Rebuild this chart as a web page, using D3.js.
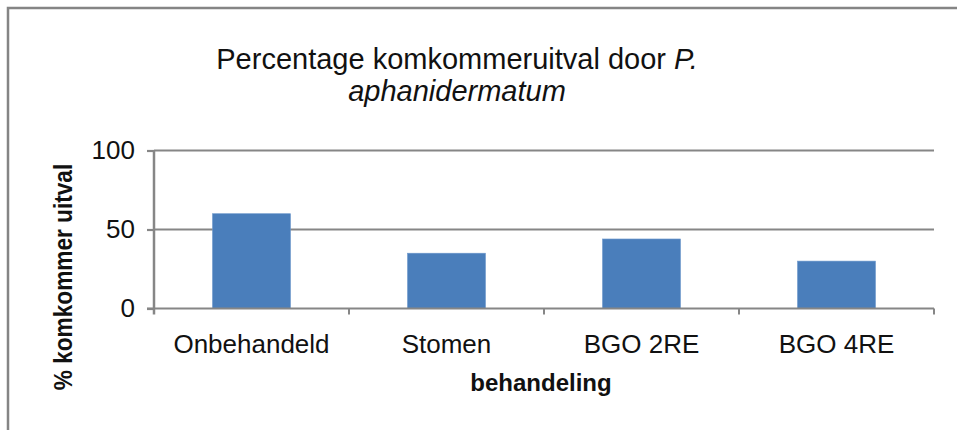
<!DOCTYPE html>
<html>
<head>
<meta charset="utf-8">
<script src="https://cdn.jsdelivr.net/npm/d3@7"></script>
<style>
  html, body { margin: 0; padding: 0; background: #fff; }
  svg { display: block; font-family: "Liberation Sans", Arial, Helvetica, sans-serif; }
</style>
</head>
<body>
<svg id="chart" width="957" height="430"></svg>
<script>
// Percentage cucumber loss per treatment
const categories = ["Onbehandeld", "Stomen", "BGO 2RE", "BGO 4RE"];
const uitval = [60, 35, 44, 30];
const yTicks = [0, 50, 100];

const width = 957, height = 430;
const margin = { top: 150.5, right: 23, bottom: 121.5, left: 154 };
const innerW = width - margin.left - margin.right;
const innerH = height - margin.top - margin.bottom;

const svg = d3.select("#chart");

// chart frame (only top and left edges fall inside the view)
svg.append("rect")
  .attr("x", 8).attr("y", 8)
  .attr("width", width + 20).attr("height", height + 20)
  .attr("fill", "none")
  .attr("stroke", "#858585")
  .attr("stroke-width", 2.5);

const g = svg.append("g").attr("transform", `translate(${margin.left},${margin.top})`);

const x = d3.scaleBand().domain(categories).range([0, innerW]).paddingInner(0.6).paddingOuter(0.3);
const y = d3.scaleLinear().domain([0, 100]).range([innerH, 0]);

// horizontal gridlines
g.append("g")
  .selectAll("line")
  .data(yTicks.filter(t => t > 0))
  .join("line")
  .attr("x1", 0).attr("x2", innerW)
  .attr("y1", d => y(d)).attr("y2", d => y(d))
  .attr("stroke", "#868686")
  .attr("stroke-width", 2.2);

// bars
g.append("g")
  .selectAll("rect")
  .data(categories)
  .join("rect")
  .attr("x", d => x(d))
  .attr("width", x.bandwidth())
  .attr("y", (d, i) => y(uitval[i]))
  .attr("height", (d, i) => innerH - y(uitval[i]))
  .attr("fill", "#4a7ebb")
  .attr("stroke", "#6f98cc")
  .attr("stroke-width", 0.6);

// y axis
const yAxis = g.append("g")
  .call(d3.axisLeft(y).tickValues(yTicks).tickSize(7).tickPadding(12).tickFormat(d3.format("d")));
yAxis.select(".domain").remove();
yAxis.selectAll(".tick line").attr("stroke", "#868686").attr("stroke-width", 2.2);
yAxis.selectAll(".tick text")
  .attr("font-size", 26).attr("fill", "#111")
  .attr("font-family", "'Liberation Sans', Arial, sans-serif");
g.append("line")
  .attr("x1", 0).attr("x2", 0)
  .attr("y1", 0).attr("y2", innerH + 6)
  .attr("stroke", "#868686").attr("stroke-width", 2.5);

// x axis with tick marks at category boundaries
const bandStep = x.step();
const xg = g.append("g").attr("transform", `translate(0,${innerH})`);
xg.append("line")
  .attr("x1", -7).attr("x2", innerW)
  .attr("stroke", "#868686").attr("stroke-width", 2.2);
xg.selectAll("line.sep")
  .data(d3.range(1, categories.length + 1))
  .join("line")
  .attr("class", "sep")
  .attr("x1", i => i * bandStep).attr("x2", i => i * bandStep)
  .attr("y1", 0).attr("y2", 6)
  .attr("stroke", "#868686").attr("stroke-width", 2);
xg.selectAll("text")
  .data(categories)
  .join("text")
  .attr("x", d => x(d) + x.bandwidth() / 2)
  .attr("y", 44)
  .attr("text-anchor", "middle")
  .attr("font-size", 26)
  .attr("fill", "#111")
  .text(d => d);

// axis titles
svg.append("text")
  .attr("x", 541).attr("y", 391)
  .attr("text-anchor", "middle")
  .attr("font-size", 24).attr("font-weight", "bold")
  .attr("fill", "#111")
  .text("behandeling");

svg.append("text")
  .attr("transform", "translate(72,277) rotate(-90) scale(1.03,1.15)")
  .attr("text-anchor", "middle")
  .attr("font-size", 22).attr("font-weight", "bold")
  .attr("fill", "#111")
  .text("% komkommer uitval");

// title
const title = svg.append("text")
  .attr("text-anchor", "middle")
  .attr("font-size", 29)
  .attr("fill", "#111");
const l1 = title.append("tspan").attr("x", 457).attr("y", 69);
l1.append("tspan").text("Percentage komkommeruitval door ");
l1.append("tspan").attr("font-style", "italic").text("P.");
title.append("tspan").attr("x", 457).attr("y", 101)
  .attr("font-style", "italic").text("aphanidermatum");
</script>
</body>
</html>
